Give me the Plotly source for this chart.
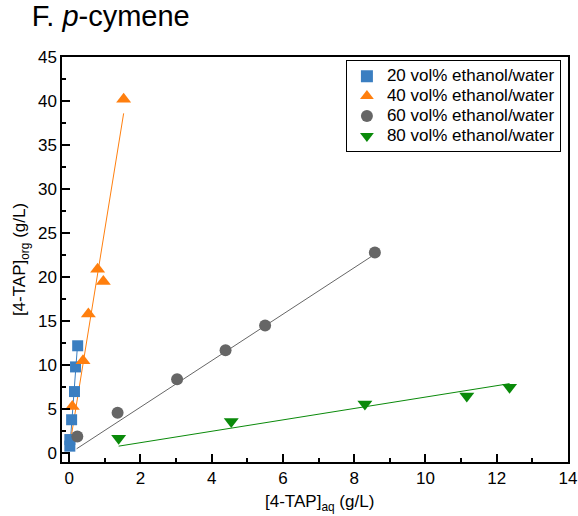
import plotly.graph_objects as go

# ---- data ----
x20 = [0.02, 0.02, 0.07, 0.15, 0.18, 0.24]
y20 = [0.8, 1.55, 3.8, 7.0, 9.8, 12.2]
x40 = [0.09, 0.39, 0.54, 0.80, 0.96, 1.53]
y40 = [5.3, 10.5, 15.8, 20.9, 19.5, 40.2]
x60 = [0.23, 1.36, 3.03, 4.39, 5.50, 8.58]
y60 = [1.9, 4.6, 8.4, 11.7, 14.5, 22.8]
x80 = [1.39, 4.55, 8.30, 11.16, 12.36]
y80 = [1.7, 3.6, 5.6, 6.5, 7.5]

# fitted lines (endpoints)
fit20_x = [0.02, 0.24]
fit20_y = [0.6, 12.5]
fit40_x = [0.06, 1.53]
fit40_y = [1.9, 38.6]
fit60_x = [0.21, 8.58]
fit60_y = [0.5, 22.6]
fit80_x = [1.39, 12.36]
fit80_y = [0.8, 7.9]

names = ["20 vol% ethanol/water", "40 vol% ethanol/water",
         "60 vol% ethanol/water", "80 vol% ethanol/water"]
colors = ["#3A7EC1", "#FF7F0E", "#666666", "#0A8A0A"]
symbols = ["square", "triangle-up", "circle", "triangle-down"]
sizes = [11, 13, 12, 13]

FONT = "Liberation Sans, Arial, sans-serif"

fig = go.Figure()
fits = [(fit20_x, fit20_y), (fit40_x, fit40_y), (fit60_x, fit60_y), (fit80_x, fit80_y)]
pts = [(x20, y20), (x40, y40), (x60, y60), (x80, y80)]
for (fx, fy), c in zip(fits, colors):
    fig.add_trace(go.Scatter(x=fx, y=fy, mode="lines", line=dict(color=c, width=1),
                             showlegend=False, hoverinfo="skip"))
for (px, py), c, s, sz, n in zip(pts, colors, symbols, sizes, names):
    fig.add_trace(go.Scatter(x=px, y=py, mode="markers",
                             name='<span style="font-size:17px">' + n + '</span>',
                             marker=dict(color=c, symbol=s, size=sz, line=dict(width=0))))

axis_common = dict(
    showgrid=False, zeroline=False, showline=True, linecolor="black", linewidth=1.5,
    mirror=True, ticks="inside", ticklen=8, tickwidth=1.5, tickcolor="black",
    tickfont=dict(family=FONT, size=17, color="black"), automargin=False,
    minor=dict(ticks="inside", ticklen=4, tickwidth=1.5, tickcolor="black"),
)

fig.update_xaxes(range=[-0.2, 14], tick0=0, dtick=2, minor_dtick=1, **axis_common)
fig.update_yaxes(range=[-1, 45], tick0=0, dtick=5, minor_dtick=2.5,
                 title=dict(text="[4-TAP]<sub>org</sub> (g/L)", font=dict(family=FONT, size=17, color="black"),
                            standoff=8),
                 **axis_common)

fig.add_annotation(text="[4-TAP]<sub>aq</sub> (g/L)", xref="paper", yref="paper",
                   x=0.508, y=-0.102, xanchor="center", yanchor="middle", showarrow=False,
                   font=dict(family=FONT, size=17, color="black"))

fig.update_layout(
    width=578, height=516,
    margin=dict(l=62, r=10, t=57, b=54, autoexpand=False),
    paper_bgcolor="white", plot_bgcolor="white",
    font=dict(family=FONT, color="black"),
    title=dict(text="F. <i>p</i>-cymene", x=0.055, xanchor="left", y=0.97, yanchor="middle",
               font=dict(family=FONT, size=29, color="black")),
    legend=dict(x=0.986, xanchor="right", y=0.992, yanchor="top",
                bordercolor="black", borderwidth=1, bgcolor="white",
                font=dict(family=FONT, size=13, color="black"),
                itemwidth=30, tracegroupgap=0, itemsizing="constant"),
)

fig.write_html("out.html")
